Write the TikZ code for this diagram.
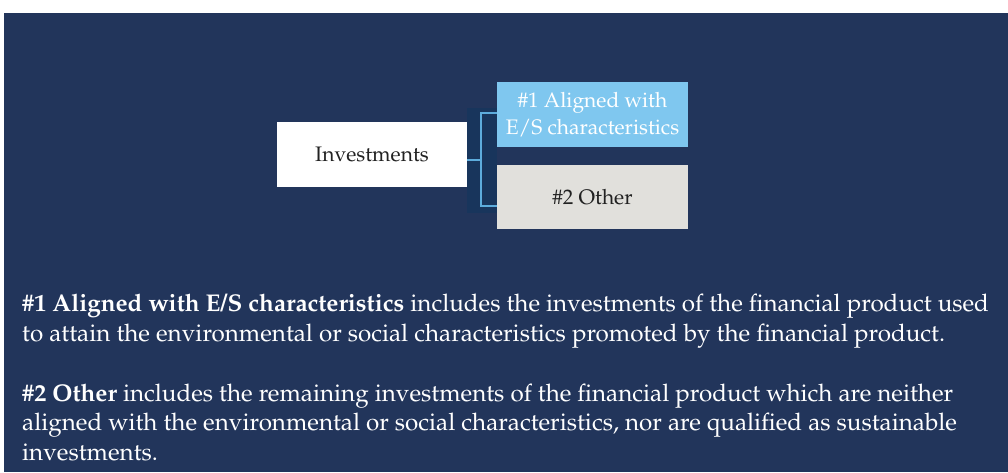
\documentclass[tikz,border=0pt]{standalone}
\usepackage[T1]{fontenc}
\usepackage{mathpazo}
\usepackage{xcolor}
\usepackage{tikz}
\usetikzlibrary{positioning,calc}
\definecolor{navy}{RGB}{34,53,91}
\definecolor{panel}{RGB}{24,53,92}
\definecolor{skyblue}{RGB}{127,199,239}
\definecolor{linkblue}{RGB}{93,172,220}
\definecolor{paleGrey}{RGB}{225,224,220}
\definecolor{inkgrey}{RGB}{34,34,34}

\begin{document}
\begin{tikzpicture}[x=1pt,y=-1pt,
    box/.style={inner sep=0pt,minimum width=191pt,minimum height=64.5pt,align=center,
                font=\fontsize{21}{27}\selectfont},
    bracket/.style={draw=linkblue,line width=1.6pt}]
  \useasboundingbox (0,0) rectangle (1008,472);
  % Page background
  \fill[navy] (4,13) rectangle (1008,472);

  % Boxes of the tree
  \node[box,fill=white,text=inkgrey,minimum width=190pt] (invest) at (372,154.5) {Investments};
  \node[box,fill=skyblue,text=white] (aligned) at (592.5,114.5) {\#1 Aligned with\\E/S characteristics};
  \node[box,fill=paleGrey,text=inkgrey] (other) at (592.5,197) {\#2 Other};

  % Connector panel and bracket
  \fill[panel] (invest.east |- 0,108) rectangle (aligned.west |- 0,213);
  \coordinate (fork) at (481,160);
  \coordinate (top) at (aligned.west |- 0,113);
  \coordinate (bottom) at (other.west |- 0,206);
  \draw[bracket] (invest.east |- fork) -- (fork);
  \draw[bracket] (top) -| (fork) |- (bottom);

  % Notes below the tree (base = last line)
  \node[anchor=base west,align=left,text=white,inner sep=0pt,
        font=\fontsize{24.2}{29.5}\selectfont] (notes) at (22,460)
    {\textbf{\#1 Aligned with E/S characteristics} includes the investments of the financial product used\\
     to attain the environmental or social characteristics promoted by the financial product.\\[30.5pt]
     \textbf{\#2 Other} includes the remaining investments of the financial product which are neither\\
     aligned with the environmental or social characteristics, nor are qualified as sustainable\\
     investments.};
\end{tikzpicture}
\end{document}
